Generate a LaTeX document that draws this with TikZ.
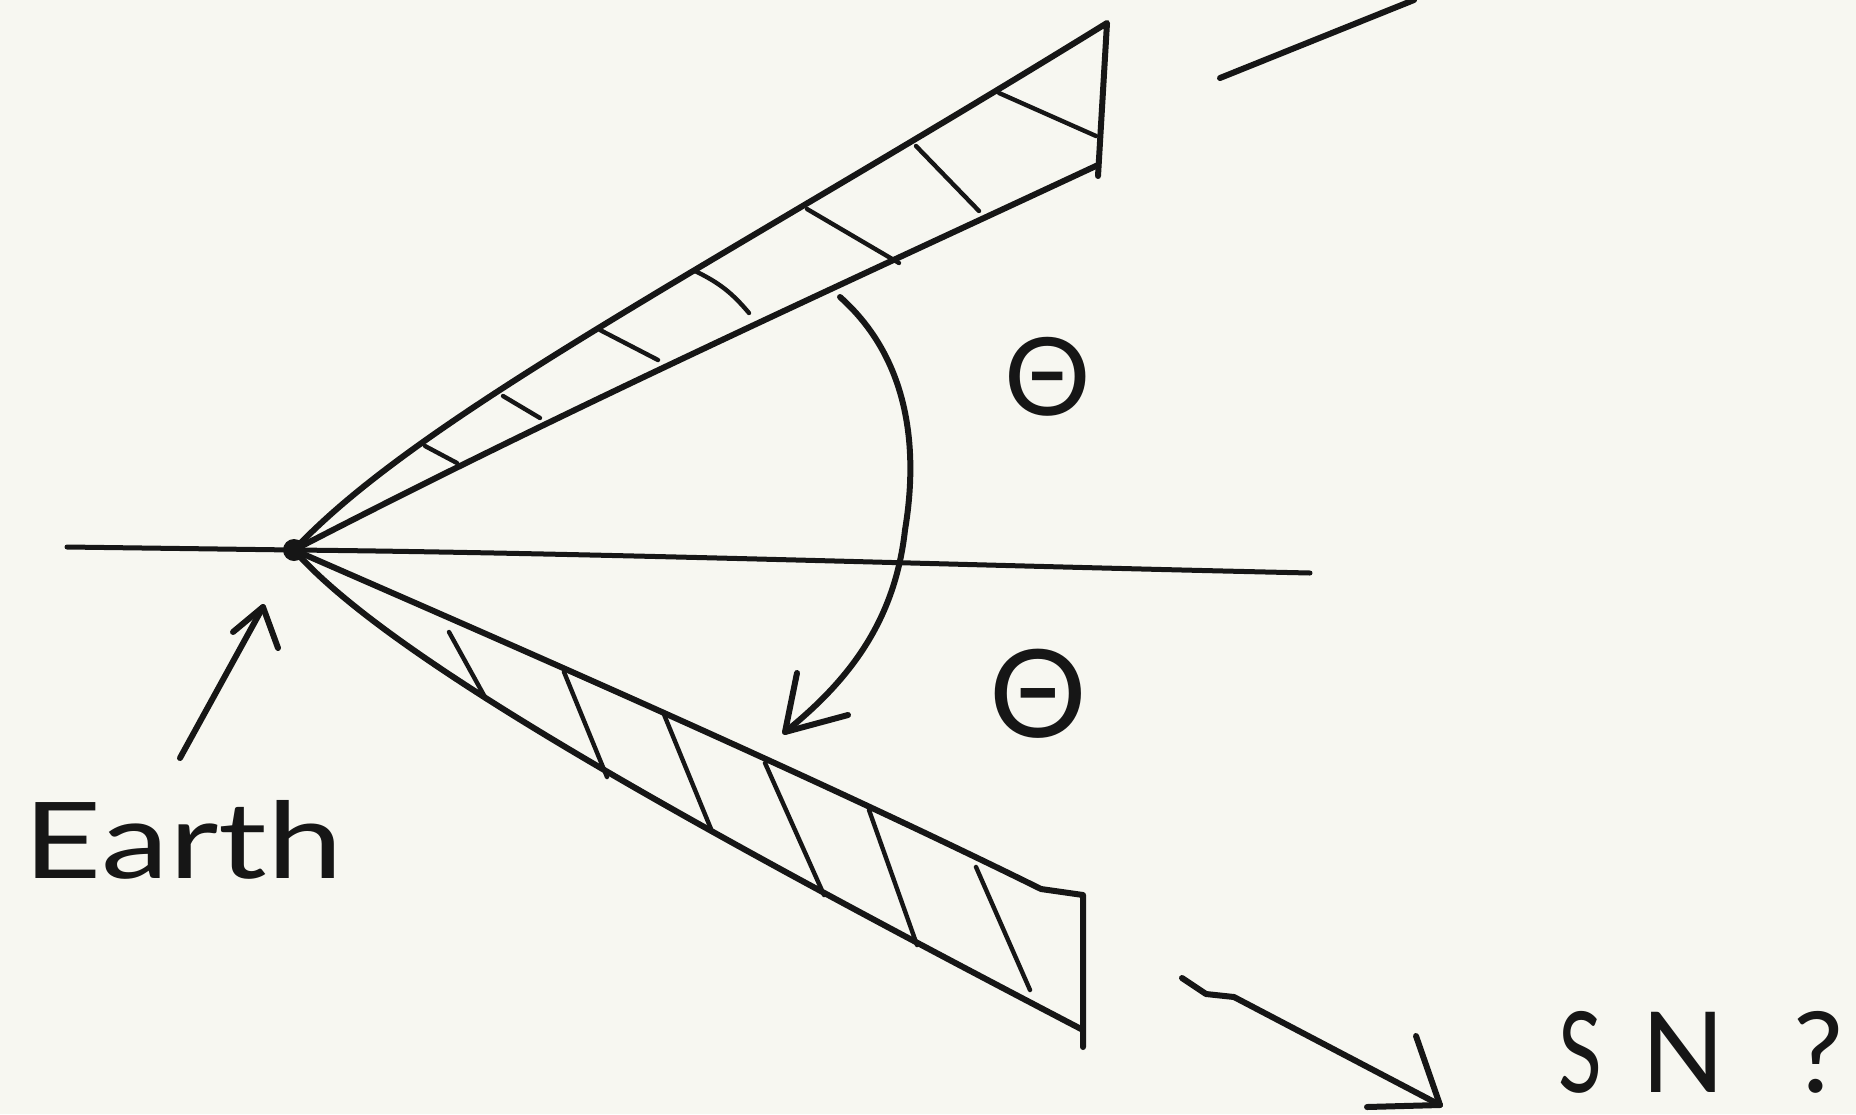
\documentclass[tikz,border=0pt]{standalone}
\usepackage{graphicx}
\usepackage{fontspec}
\setmainfont{Lato}
\definecolor{paper}{RGB}{247,247,241}
\definecolor{ink}{RGB}{22,22,22}
\tikzset{
  pen/.style={draw=ink, line width=3pt, line cap=round, line join=round},
  thinpen/.style={draw=ink, line width=2.5pt, line cap=round, line join=round},
  hatchline/.style={draw=ink, line width=2.2pt, line cap=round},
  lbl/.style={text=ink, inner sep=0pt, outer sep=0pt},
}
\begin{document}
\begin{tikzpicture}[x=0.5pt,y=-0.5pt]
\fill[paper] (0,0) rectangle (1856,1114);
\useasboundingbox (0,0) rectangle (1856,1114);

% key points
\coordinate (earth) at (294,550);
\coordinate (hl) at (67,547);
\coordinate (hr) at (1310,573);
\coordinate (utip) at (1107,23);
\coordinate (uin) at (1098,165);
\coordinate (ubot) at (1098,176);
\coordinate (lcorner) at (1041,889);
\coordinate (ltr) at (1083,895);
\coordinate (lin) at (1083,1030);
\coordinate (lbot) at (1083,1047);

% horizontal line
\draw[thinpen] (hl) -- (earth) .. controls (600,553) and (950,565) .. (hr);

% upper wedge
\draw[pen] (earth) .. controls (420,415) and (720,262) .. (utip) -- (ubot);
\draw[pen] (earth) .. controls (560,412) and (830,290) .. (uin);

% upper hatches
\draw[hatchline] (425,446) -- (457,463);
\draw[hatchline] (503,396) -- (540,418);
\draw[hatchline] (600,330) -- (658,360);
\draw[hatchline] (695,271) to[bend left=12] (749,313);
\draw[hatchline] (807,209) -- (899,263);
\draw[hatchline] (916,146) -- (979,211);
\draw[hatchline] (999,93) -- (1096,136);

% lower wedge
\draw[pen] (earth) .. controls (500,640) and (800,770) .. (lcorner) -- (ltr) -- (lbot);
\draw[pen] (earth) .. controls (390,660) and (700,830) .. (lin);

% lower hatches
\draw[hatchline] (449,632) -- (486,699);
\draw[hatchline] (564,672) -- (607,777);
\draw[hatchline] (663,712) -- (711,829);
\draw[hatchline] (765,763) -- (824,895);
\draw[hatchline] (869,810) -- (917,945);
\draw[hatchline] (976,867) -- (1030,990);

% earth dot
\fill[ink] (earth) circle (11);

% arc arrow theta
\coordinate (arcs) at (840,297);
\coordinate (arcm) at (905,530);
\coordinate (arct) at (785,732);
\coordinate (arca) at (797,673);
\coordinate (arcb) at (848,715);
\draw[pen] (arcs) .. controls (905,355) and (920,440) .. (arcm)
  .. controls (895,620) and (850,680) .. (arct);
\draw[pen] (arca) -- (arct) -- (arcb);

% theta labels
\node[lbl] (th1) at (1048,377) {\fontsize{54}{60}\selectfont Θ};
\node[lbl] (th2) at (1038,694) {\fontsize{61}{66}\selectfont Θ};

% Earth label and arrow
\node[lbl, anchor=base west] (earthlbl) at (24,878) {\fontsize{53}{60}\selectfont\scalebox{1.28}[1]{Earth}};
\coordinate (ea0) at (180,758);
\coordinate (eat) at (263,607);
\coordinate (eaa) at (233,632);
\coordinate (eab) at (278,648);
\draw[pen] (ea0) -- (eat);
\draw[pen] (eaa) -- (eat) -- (eab);

% top right line
\coordinate (tr0) at (1220,78);
\coordinate (tr1) at (1414,0);
\draw[pen] (tr0) -- (tr1);

% SN arrow
\coordinate (sn0) at (1182,978);
\coordinate (snt) at (1440,1105);
\coordinate (sna) at (1416,1036);
\coordinate (snb) at (1367,1107);
\draw[pen] (sn0) -- (1206,994) -- (1234,997) -- (snt);
\draw[pen] (sna) -- (snt) -- (snb);

\node[lbl, anchor=base west] (sn) at (1558,1092) {\fontsize{56}{60}\selectfont\scalebox{0.72}[1]{S}\kern20pt\scalebox{0.98}[1]{N}\kern34pt ?};
\end{tikzpicture}
\end{document}
